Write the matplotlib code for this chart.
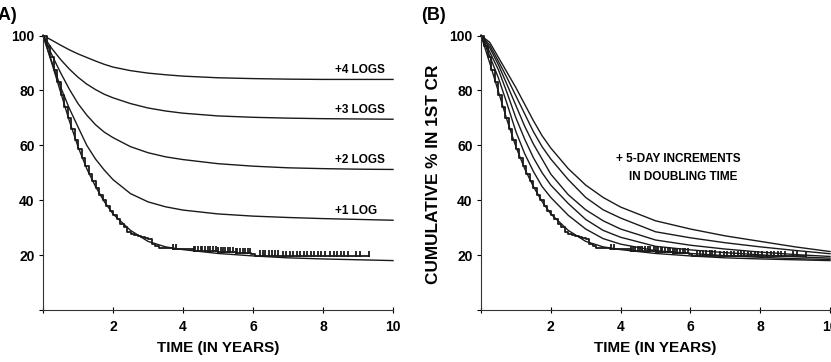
import numpy as np
import matplotlib.pyplot as plt

plt.rcParams['font.family'] = ['Liberation Sans', 'DejaVu Sans']
plt.rcParams['font.weight'] = 'bold'

# time grid shared by the model curves (years)
t = [0, 0.25, 0.5, 0.75, 1, 1.25, 1.5, 1.75, 2, 2.5, 3, 3.5, 4, 5, 6, 7, 8, 9, 10]

# base model (fits the observed data)
base = [100, 90, 79.5, 69, 59.5, 51.5, 45, 39.5, 35, 29, 25, 23, 22, 20.6, 19.7, 19, 18.6, 18.3, 18]

# panel A: extra log kill
plus1 = [100, 90.5, 81.3, 73.5, 66.7, 60, 55, 51, 47.5, 42.4, 39.4, 37.6, 36.4, 35, 34.2, 33.7, 33.3, 33, 32.7]
plus2 = [100, 93, 86.5, 80.5, 75.2, 71, 67.5, 64.8, 62.8, 59.5, 57.3, 55.8, 54.8, 53.3, 52.4, 51.8, 51.5, 51.3, 51.2]
plus3 = [100, 95.3, 91.3, 87.8, 84.8, 82.3, 80.3, 78.6, 77.3, 75.2, 73.6, 72.5, 71.7, 70.7, 70.2, 69.9, 69.7, 69.6, 69.5]
plus4 = [100, 98.3, 96.5, 94.8, 93.3, 92, 90.7, 89.5, 88.5, 87.2, 86.3, 85.7, 85.2, 84.6, 84.3, 84.1, 84, 84, 84]
logs_labels = ["+1 LOG", "+2 LOGS", "+3 LOGS", "+4 LOGS"]

# panel B: +5-day increments in doubling time
b1 = [100, 92.5, 84.5, 75, 65, 57, 50.5, 45, 41, 34.5, 29.5, 26, 24, 21.6, 20.6, 19.8, 19.2, 18.7, 18.4]
b2 = [100, 94, 87.5, 79, 70, 62.3, 55.5, 50, 45.5, 38.8, 33, 29, 26.5, 23.2, 21.9, 20.9, 20.1, 19.4, 18.9]
b3 = [100, 95.5, 89.3, 82, 74.5, 67, 60.5, 55, 49.5, 42, 36.5, 32.5, 29.5, 25.5, 23.6, 22.2, 21.1, 20.2, 19.5]
b4 = [100, 96.5, 90.6, 84.5, 78, 71.5, 65, 59.5, 55, 47.5, 41, 36.5, 33.5, 28.5, 26.3, 24.5, 23, 21.7, 20.5]
b5 = [100, 97.5, 92, 86.5, 81, 75, 69, 63.5, 59, 51.5, 45.5, 41, 37.5, 32.5, 29.5, 27, 25, 23, 21.3]

# observed Kaplan-Meier curve
km_t = [0, 0.1, 0.2, 0.3, 0.4, 0.5, 0.6, 0.7, 0.8, 0.9, 1.0, 1.1, 1.2, 1.3, 1.4, 1.5, 1.6, 1.7,
        1.8, 1.9, 2.0, 2.1, 2.2, 2.3, 2.4, 2.5, 2.6, 2.7, 2.8, 2.9, 3.0, 3.1, 3.2, 3.3, 3.7,
        4.3, 5.0, 5.5, 5.95, 6.05, 6.8, 9.3]
km_s = [100, 96, 92, 87.5, 83, 78.5, 74, 70, 66, 62, 58.5, 55.5, 52.5, 49.5, 47, 44.5, 42, 40,
        38, 36, 34.5, 33, 31.5, 30.3, 28.5, 27.8, 27.3, 27, 26.6, 26.2, 25.8, 24.2, 23.2, 22.6, 22.2,
        21.6, 21.1, 20.8, 20.5, 19.8, 19.5, 19.5]
censored = [3.72, 3.8, 4.3, 4.35, 4.42, 4.5, 4.55, 4.62, 4.7, 4.78, 4.85, 4.95, 5.0, 5.08, 5.15,
            5.2, 5.28, 5.35, 5.42, 5.5, 5.55, 5.62, 5.7, 5.78, 5.85, 5.92, 6.2, 6.28, 6.35, 6.45,
            6.55, 6.62, 6.7, 6.85, 6.95, 7.05, 7.15, 7.25, 7.35, 7.45, 7.55, 7.65, 7.75, 7.85,
            7.95, 8.05, 8.2, 8.3, 8.4, 8.5, 8.6, 8.7, 8.95, 9.05, 9.3]

W, H = 831, 362
fig = plt.figure(figsize=(W / 100, H / 100), dpi=100)
axA = fig.add_axes([43 / W, 52 / H, 350 / W, 274.5 / H])
axB = fig.add_axes([481 / W, 52 / H, 349 / W, 274.5 / H])

km_t = np.array(km_t)
km_s = np.array(km_s)
cens = np.array(censored)
cens_y = km_s[np.searchsorted(km_t, cens, side='right') - 1] + 0.8

lc = '#1a1a1a'
for ax, curves in [(axA, [base, plus1, plus2, plus3, plus4]),
                   (axB, [base, b1, b2, b3, b4, b5])]:
    for c in curves:
        ax.plot(t, c, color=lc, lw=1.0, clip_on=False)
    ax.plot(km_t, km_s, drawstyle='steps-post', color=lc, lw=1.3, clip_on=False)
    ax.plot(cens, cens_y, ls='none', marker='|', ms=5, mew=1.3, color=lc)
    ax.set_xlim(0, 10)
    ax.set_ylim(0, 100)
    ax.spines['top'].set_visible(False)
    ax.spines['right'].set_visible(False)
    ax.spines['left'].set_color('#333333')
    ax.spines['bottom'].set_color('#333333')
    ax.set_xticks([0, 2, 4, 6, 8, 10])
    ax.set_xticklabels(['', '2', '4', '6', '8', '10'])
    ax.set_yticks([0, 20, 40, 60, 80, 100])
    ax.set_yticklabels(['', '20', '40', '60', '80', '100'])
    ax.tick_params(axis='x', direction='inout', length=5, labelsize=10, pad=5)
    ax.tick_params(axis='y', direction='out', length=3, labelsize=10, pad=3)
    for lab in ax.get_xticklabels() + ax.get_yticklabels():
        lab.set_fontweight('bold')
    ax.set_xlabel('TIME (IN YEARS)', fontsize=11, fontweight='bold', labelpad=5)

# labels for the log curves
for lab, c in zip(logs_labels, [plus1, plus2, plus3, plus4]):
    axA.text(8.33, c[-1] + 1.3, lab, fontsize=8.5, fontweight='bold', va='bottom')

axB.text(7.45, 55, '+ 5-DAY INCREMENTS', fontsize=8.5, fontweight='bold', ha='right', va='center')
axB.text(7.35, 48.4, 'IN DOUBLING TIME', fontsize=8.5, fontweight='bold', ha='right', va='center')

fig.text(433 / W, 1 - 174 / H, 'CUMULATIVE % IN 1ST CR', rotation=90, fontsize=12.4,
         fontweight='bold', ha='center', va='center')
fig.text(-5 / W, 1 - 174 / H, 'CUMULATIVE % IN 1ST CR', rotation=90, fontsize=12.4,
         fontweight='bold', ha='center', va='center')
fig.text(-8 / W, 1 - 15 / H, '(A)', fontsize=13, fontweight='bold', va='center')
fig.text(421 / W, 1 - 15 / H, '(B)', fontsize=13, fontweight='bold', va='center')

fig.savefig('out.png', dpi=100)
